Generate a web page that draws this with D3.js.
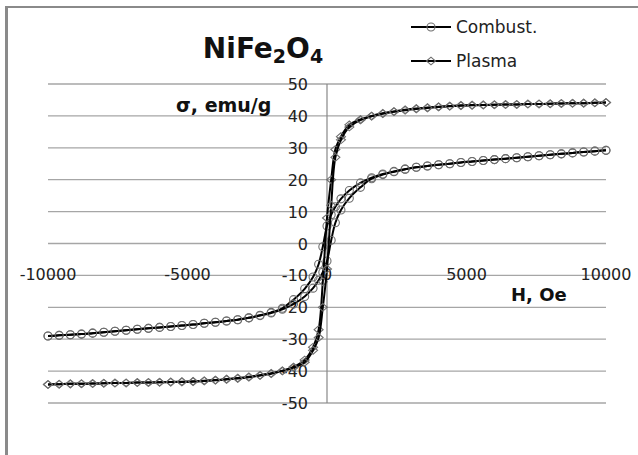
<!DOCTYPE html>
<html>
<head>
<meta charset="utf-8">
<script src="https://cdn.jsdelivr.net/npm/d3@7"></script>
<style>
  body { margin: 0; background: #fff; }
  text { font-family: "DejaVu Sans", sans-serif; fill: #111; }
</style>
</head>
<body>
<div id="my_dataviz"></div>
<script>
// field grid, descending branch (Oe)
var hDown = [10000, 9600, 9200, 8800, 8400, 8000, 7600, 7200, 6800, 6400, 6000, 5600, 5200, 4800, 4400, 4000, 3600, 3200, 2800, 2400, 2000, 1600, 1200, 800, 500, 300, 150, 0,
    -150, -300, -500, -800, -1200, -1600, -2000, -2400, -2800, -3200, -3600, -4000, -4400, -4800, -5200, -5600, -6000, -6400, -6800, -7200, -7600, -8000, -8400, -8800, -9200, -9600, -10000];
// field grid, ascending branch (Oe)
var hUp = [-10000, -9600, -9200, -8800, -8400, -8000, -7600, -7200, -6800, -6400, -6000, -5600, -5200, -4800, -4400, -4000, -3600, -3200, -2800, -2400, -2000, -1600, -1200, -800, -500, -300, -150, 0,
    150, 300, 500, 800, 1200, 1600, 2000, 2400, 2800, 3200, 3600, 4000, 4400, 4800, 5200, 5600, 6000, 6400, 6800, 7200, 7600, 8000, 8400, 8800, 9200, 9600, 10000];

var combustDown = [29.2, 28.95, 28.7, 28.4, 28.1, 27.8, 27.5, 27.2, 26.9, 26.6, 26.3, 26.0, 25.7, 25.4, 25.0, 24.7, 24.3, 23.9, 23.3, 22.6, 21.8, 20.6, 19.0, 16.6, 14.0, 11.5, 9.0, 5.5,
    -1.0, -6.5, -10.5, -14.2, -17.6, -20.3, -21.6, -22.5, -23.3, -23.9, -24.3, -24.7, -25.0, -25.4, -25.7, -26.0, -26.3, -26.6, -26.9, -27.2, -27.5, -27.8, -28.1, -28.4, -28.6, -28.8, -29.0];
var combustUp = [-29.0, -28.8, -28.6, -28.4, -28.1, -27.8, -27.5, -27.2, -26.9, -26.6, -26.3, -26.0, -25.7, -25.4, -25.0, -24.7, -24.3, -23.9, -23.3, -22.6, -21.8, -20.6, -19.0, -16.6, -14.0, -11.5, -9.0, -5.5,
    1.0, 6.5, 10.5, 14.2, 17.6, 20.3, 21.6, 22.5, 23.3, 23.9, 24.3, 24.7, 25.0, 25.4, 25.7, 26.0, 26.3, 26.6, 26.9, 27.2, 27.5, 27.8, 28.1, 28.4, 28.7, 28.95, 29.2];

var plasmaDown = [44.2, 44.1, 44.0, 43.95, 43.9, 43.8, 43.75, 43.7, 43.6, 43.55, 43.5, 43.45, 43.4, 43.3, 43.1, 42.9, 42.6, 42.3, 41.9, 41.4, 40.8, 40.0, 38.9, 37.2, 33.5, 29.5, 20.0, 8.0,
    -12.0, -27.0, -32.5, -36.5, -38.7, -39.9, -40.7, -41.3, -41.8, -42.2, -42.5, -42.8, -43.0, -43.2, -43.3, -43.4, -43.5, -43.55, -43.6, -43.7, -43.75, -43.8, -43.9, -43.95, -44.0, -44.1, -44.2];
var plasmaUp = [-44.2, -44.1, -44.0, -43.95, -43.9, -43.8, -43.75, -43.7, -43.6, -43.55, -43.5, -43.45, -43.4, -43.3, -43.1, -42.9, -42.6, -42.3, -41.9, -41.4, -40.8, -40.0, -38.9, -37.2, -33.5, -29.5, -20.0, -8.0,
    12.0, 27.0, 32.5, 36.5, 38.7, 39.9, 40.7, 41.3, 41.8, 42.2, 42.5, 42.8, 43.0, 43.2, 43.3, 43.4, 43.5, 43.55, 43.6, 43.7, 43.75, 43.8, 43.9, 43.95, 44.0, 44.1, 44.2];

var xTicks = [-10000, -5000, 0, 5000, 10000];
var yTicks = [-50, -40, -30, -20, -10, 0, 10, 20, 30, 40, 50];
var seriesNames = ["Combust.", "Plasma"];

var width = 638, height = 455;

var svg = d3.select("#my_dataviz")
    .append("svg")
    .attr("width", width)
    .attr("height", height);

svg.append("rect").attr("width", width).attr("height", height).attr("fill", "#fff");

// chart frame (only top and left edges show)
svg.append("line").attr("x1", 6.5).attr("y1", 7).attr("x2", 6.5).attr("y2", height)
    .style("stroke", "#8a8a8a").style("stroke-width", 3);
svg.append("line").attr("x1", 5).attr("y1", 7).attr("x2", width).attr("y2", 7)
    .style("stroke", "#8a8a8a").style("stroke-width", 2);

var x = d3.scaleLinear().domain([-10000, 10000]).range([48, 606]);
var y = d3.scaleLinear().domain([-50, 50]).range([403, 84]);

// gridlines
svg.append("g")
    .selectAll("line")
    .data(yTicks)
    .enter()
    .append("line")
    .attr("x1", x(-10000))
    .attr("x2", x(10000))
    .attr("y1", function (d) { return y(d); })
    .attr("y2", function (d) { return y(d); })
    .style("stroke", "#a6a6a6")
    .style("stroke-width", 1.3);

// vertical axis
svg.append("line")
    .attr("x1", x(0)).attr("x2", x(0))
    .attr("y1", y(50)).attr("y2", y(-50))
    .style("stroke", "#888")
    .style("stroke-width", 1.2);

svg.append("g")
    .selectAll("text")
    .data(yTicks)
    .enter()
    .append("text")
    .attr("x", x(0) - 19)
    .attr("y", function (d) { return y(d) + 6; })
    .attr("text-anchor", "end")
    .style("font-size", "16px")
    .style("fill", "#222")
    .text(function (d) { return d; });

svg.append("g")
    .selectAll("text")
    .data(xTicks)
    .enter()
    .append("text")
    .attr("x", function (d) { return x(d); })
    .attr("y", y(-10) + 4.5)
    .attr("text-anchor", "middle")
    .style("font-size", "16px")
    .style("fill", "#222")
    .text(function (d) { return d; });

// title
var title = svg.append("text")
    .attr("x", 263)
    .attr("y", 58)
    .attr("text-anchor", "middle")
    .style("font-size", "28px")
    .style("font-weight", "bold");
title.append("tspan").text("NiFe");
title.append("tspan").attr("dy", 5).style("font-size", "19px").text("2");
title.append("tspan").attr("dy", -5).text("O");
title.append("tspan").attr("dy", 5).style("font-size", "19px").text("4");

svg.append("text")
    .attr("x", 176)
    .attr("y", 112)
    .style("font-size", "19px")
    .style("font-weight", "bold")
    .text("σ, emu/g");

svg.append("text")
    .attr("x", 511)
    .attr("y", 301)
    .style("font-size", "18px")
    .style("font-weight", "bold")
    .text("H, Oe");

var line = d3.line()
    .x(function (d) { return x(d[0]); })
    .y(function (d) { return y(d[1]); })
    .curve(d3.curveCatmullRom.alpha(0.5));

var diamond = "M-4.5,0L0,-3.8L4.5,0L0,3.8Z";

function drawSeries(hs, vs, shape) {
    var pts = hs.map(function (h, i) { return [h, vs[i]]; });
    svg.append("path")
        .datum(pts)
        .attr("d", line)
        .style("fill", "none")
        .style("stroke", "#000")
        .style("stroke-width", 2);
    var g = svg.append("g");
    if (shape === "circle") {
        g.selectAll("circle")
            .data(pts)
            .enter()
            .append("circle")
            .attr("cx", function (d) { return x(d[0]); })
            .attr("cy", function (d) { return y(d[1]); })
            .attr("r", 4)
            .style("fill", "none")
            .style("stroke", "#6e6e6e")
            .style("stroke-width", 1.1);
    } else {
        g.selectAll("path")
            .data(pts)
            .enter()
            .append("path")
            .attr("d", diamond)
            .attr("transform", function (d) { return "translate(" + x(d[0]) + "," + y(d[1]) + ")"; })
            .style("fill", "none")
            .style("stroke", "#6e6e6e")
            .style("stroke-width", 1.1);
    }
}

drawSeries(hDown, combustDown, "circle");
drawSeries(hUp, combustUp, "circle");
drawSeries(hDown, plasmaDown, "diamond");
drawSeries(hUp, plasmaUp, "diamond");

// legend
var legendY = [27, 61];
seriesNames.forEach(function (name, i) {
    svg.append("line")
        .attr("x1", 411).attr("x2", 451)
        .attr("y1", legendY[i]).attr("y2", legendY[i])
        .style("stroke", "#000")
        .style("stroke-width", 2);
    if (i === 0) {
        svg.append("circle")
            .attr("cx", 431).attr("cy", legendY[i]).attr("r", 4)
            .style("fill", "none").style("stroke", "#6e6e6e").style("stroke-width", 1.1);
    } else {
        svg.append("path")
            .attr("d", diamond)
            .attr("transform", "translate(431," + legendY[i] + ")")
            .style("fill", "none").style("stroke", "#6e6e6e").style("stroke-width", 1.1);
    }
    svg.append("text")
        .attr("x", 456)
        .attr("y", legendY[i] + 6)
        .style("font-size", "17px")
        .style("fill", "#222")
        .text(name);
});
</script>
</body>
</html>
